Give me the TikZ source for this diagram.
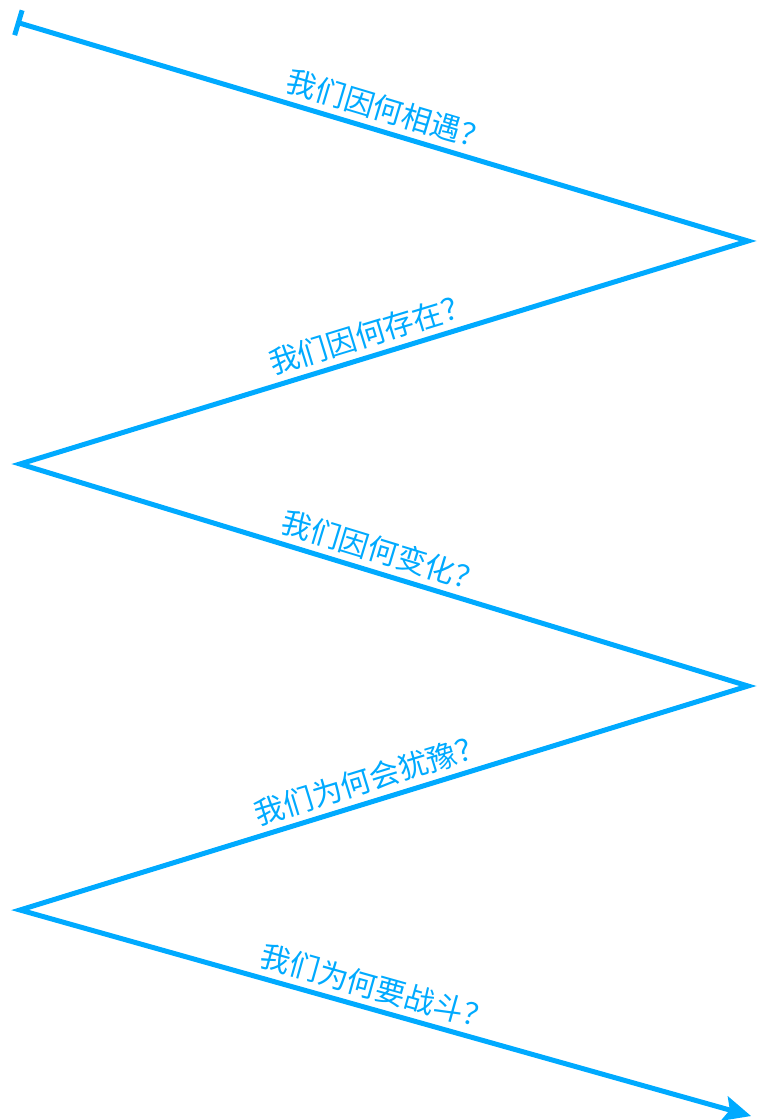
\documentclass[tikz,border=0pt]{standalone}
\usepackage{fontspec}
\newfontfamily\cjk{Noto Sans CJK SC}
\usetikzlibrary{arrows.meta}
\definecolor{zblue}{RGB}{0,170,255}
\tikzset{
  zline/.style={draw=zblue, line width=5pt, line join=miter},
  qlabel/.style={sloped, above=4pt, inner sep=2pt, text=zblue, font=\cjk\fontsize{30}{34}\selectfont}
}
\begin{document}
\begin{tikzpicture}[x=1pt,y=-1pt]
\useasboundingbox (0,0) rectangle (756,1120);
\coordinate (s) at (16,22);
\coordinate (v1) at (748,241);
\coordinate (v2) at (20,464);
\coordinate (v3) at (748,686);
\coordinate (v4) at (20,910);
\coordinate (e) at (751,1116);
\draw[zline, {Bar[width=26pt,line width=5pt]}-{Stealth[length=28pt,width=26pt,inset=6pt,line width=0pt]}]
  (s) -- node[qlabel, pos=0.5] {我们因何相遇？}
  (v1) -- node[qlabel, pos=0.51] {我们因何存在？}
  (v2) -- node[qlabel, pos=0.49] {我们因何变化？}
  (v3) -- node[qlabel, pos=0.51] {我们为何会犹豫？}
  (v4) -- node[qlabel, pos=0.48] {我们为何要战斗？}
  (e);
\end{tikzpicture}
\end{document}
